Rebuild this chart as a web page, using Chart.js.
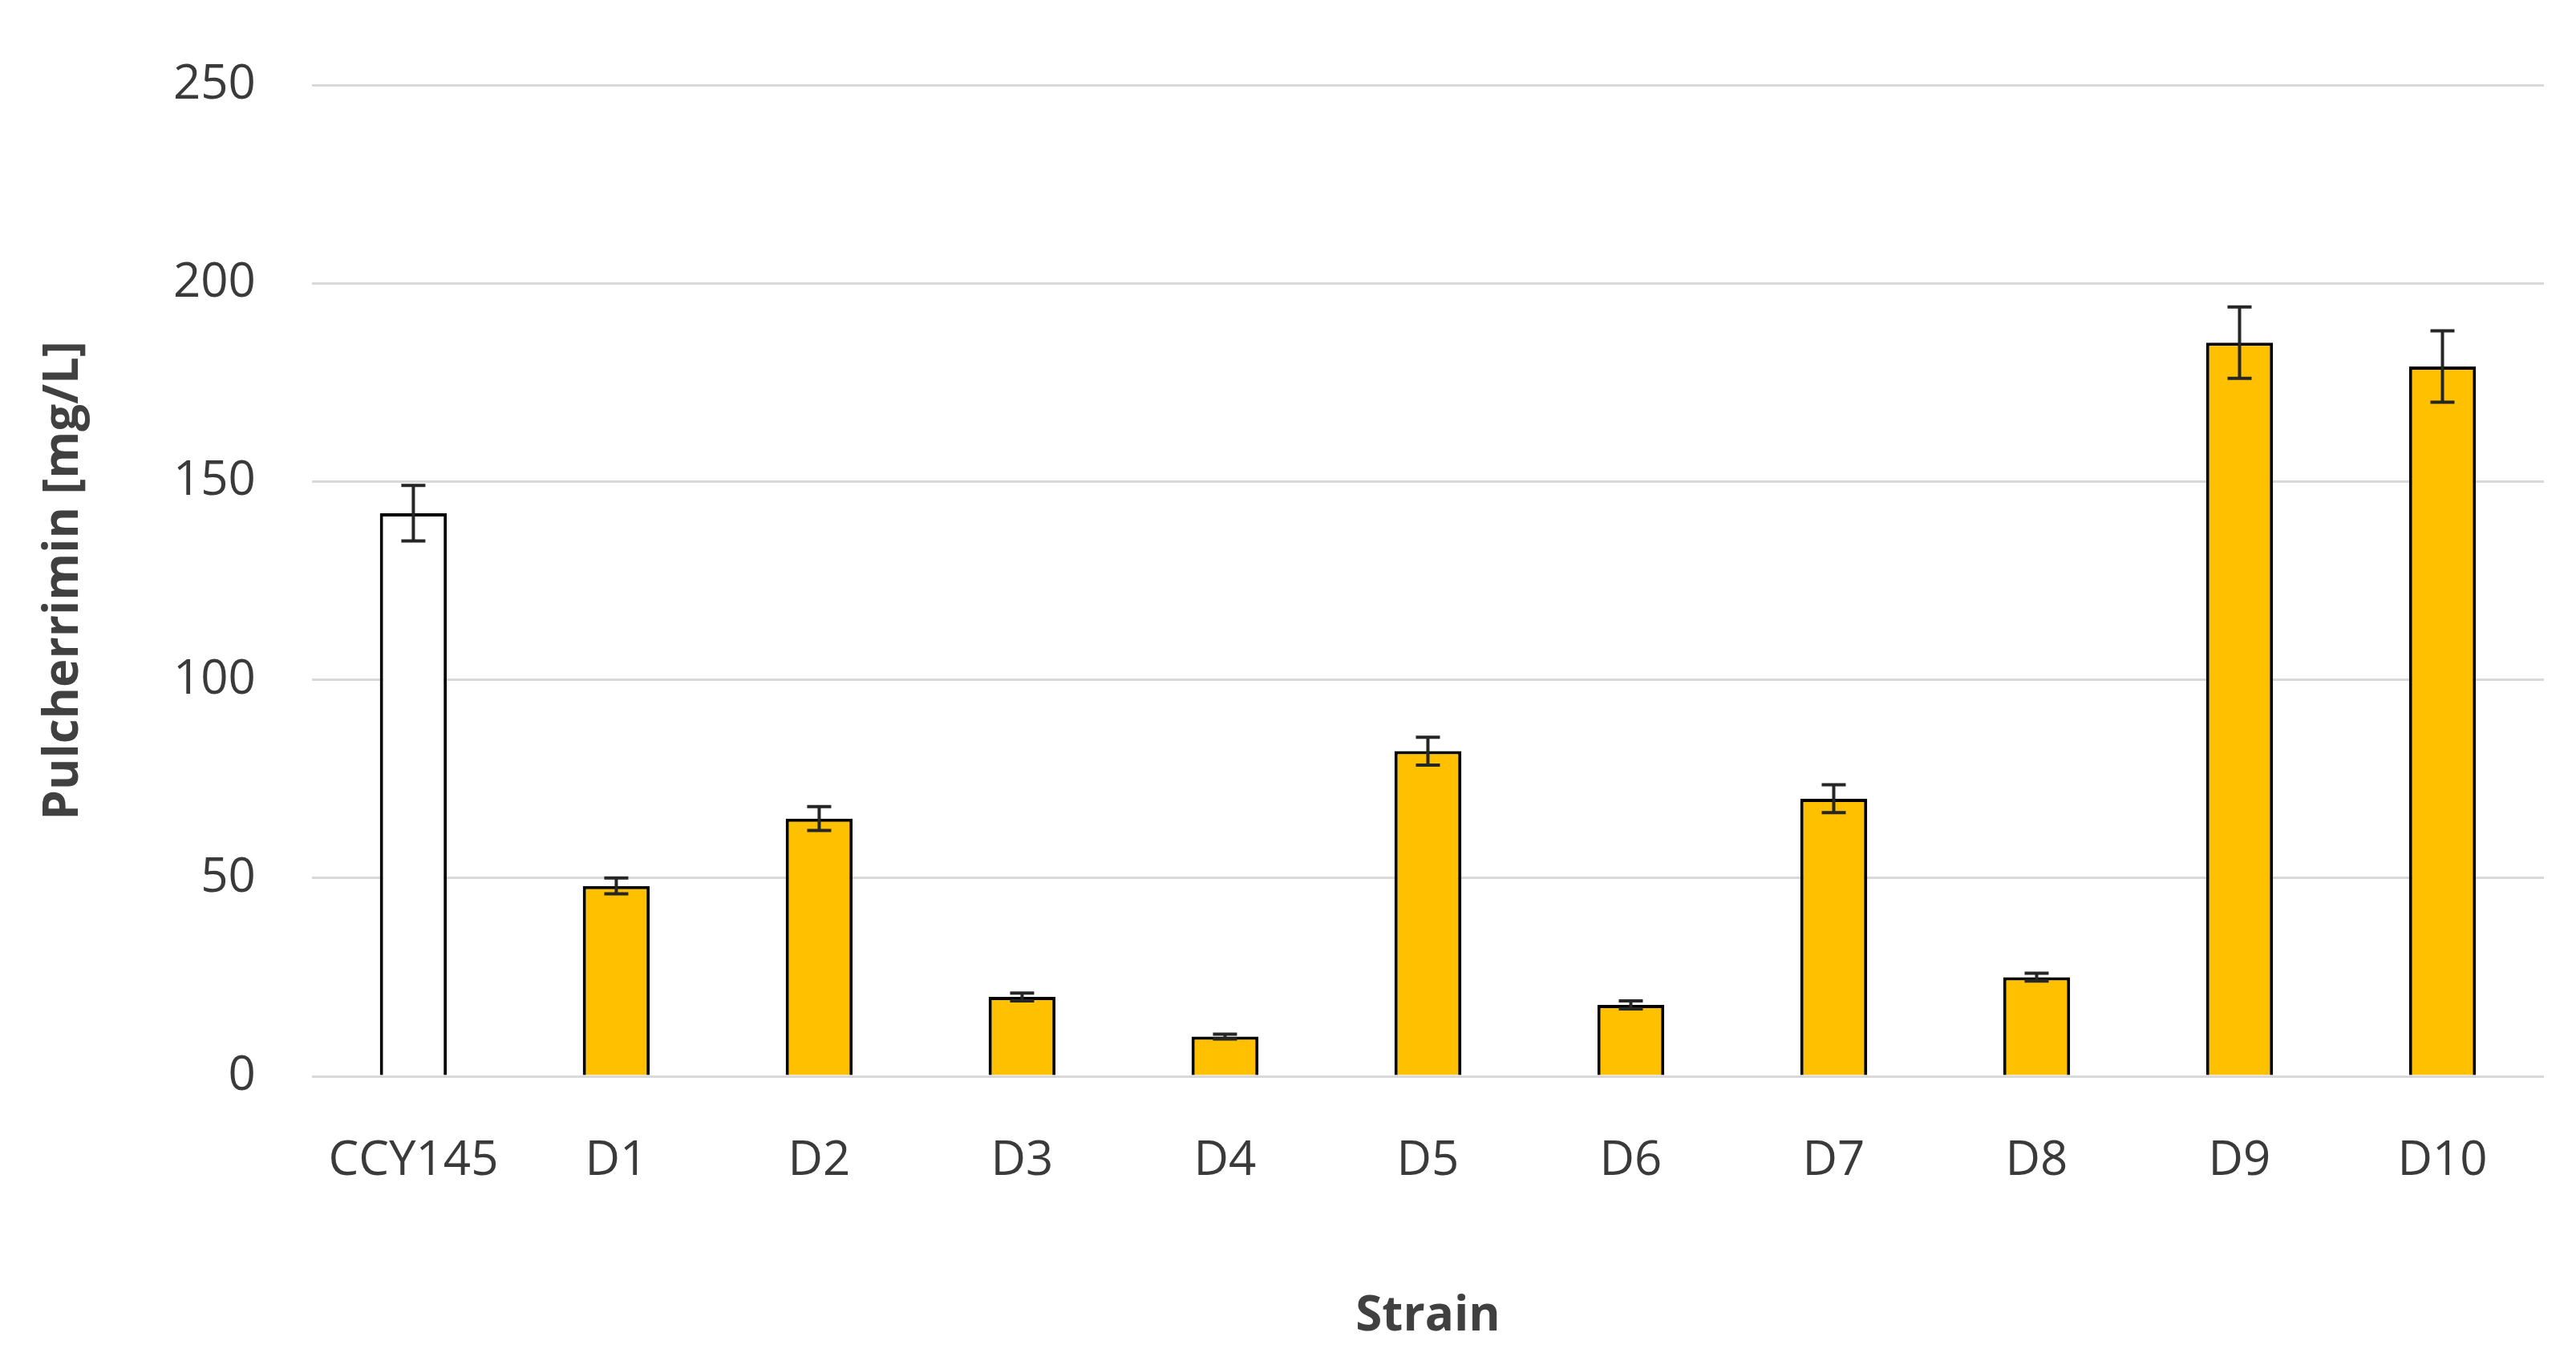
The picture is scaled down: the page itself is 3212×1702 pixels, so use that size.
<!DOCTYPE html>
<html>
<head>
<meta charset="utf-8">
<script src="https://cdn.jsdelivr.net/npm/chart.js@4/dist/chart.umd.min.js"></script>
<style>
  html, body { margin: 0; padding: 0; background: #fff; }
  #wrap { width: 3212px; height: 1702px; }
</style>
</head>
<body>
<div id="wrap"><canvas id="chart"></canvas></div>
<script>
const strains = ['CCY145', 'D1', 'D2', 'D3', 'D4', 'D5', 'D6', 'D7', 'D8', 'D9', 'D10']
const pulcherrimin = [142, 48, 65, 20, 10, 82, 18, 70, 25, 185, 179]
const errors = [7, 2, 3, 1, 0.6, 3.5, 1, 3.5, 1, 9, 9]
const barColors = ['#ffffff', '#ffc000', '#ffc000', '#ffc000', '#ffc000', '#ffc000', '#ffc000', '#ffc000', '#ffc000', '#ffc000', '#ffc000']

// draws the error whiskers through the y scale
const errorBars = {
  id: 'errorBars',
  afterDatasetsDraw(chart) {
    const ctx = chart.ctx
    const y = chart.scales.y
    const meta = chart.getDatasetMeta(0)
    ctx.save()
    ctx.strokeStyle = '#262626'
    ctx.lineWidth = 4
    meta.data.forEach((bar, i) => {
      const v = pulcherrimin[i], e = errors[i]
      const top = y.getPixelForValue(v + e)
      const bot = y.getPixelForValue(v - e)
      const cap = 15
      ctx.beginPath()
      ctx.moveTo(bar.x, top); ctx.lineTo(bar.x, bot)
      ctx.moveTo(bar.x - cap, top); ctx.lineTo(bar.x + cap, top)
      ctx.moveTo(bar.x - cap, bot); ctx.lineTo(bar.x + cap, bot)
      ctx.stroke()
    })
    ctx.restore()
  }
}

Chart.defaults.font.family = "'Open Sans', sans-serif"
Chart.defaults.color = '#404040'

new Chart(document.getElementById('chart'), {
  type: 'bar',
  data: {
    labels: strains,
    datasets: [{
      data: pulcherrimin,
      backgroundColor: barColors,
      borderColor: '#000000',
      borderWidth: 4,
      borderSkipped: 'bottom',
      barPercentage: 0.33,
      categoryPercentage: 1
    }]
  },
  options: {
    responsive: true,
    maintainAspectRatio: false,
    animation: false,
    layout: { padding: { top: 24, right: 40, left: 40, bottom: 20 } },
    plugins: { legend: { display: false }, tooltip: { enabled: false } },
    scales: {
      x: {
        grid: { display: false },
        border: { display: false },
        ticks: { font: { size: 60 }, padding: 62, color: '#3a3a3a' },
        title: { display: true, text: 'Strain', font: { size: 60, weight: 'bold' }, padding: { top: 60 } }
      },
      y: {
        min: 0, max: 250,
        ticks: { stepSize: 50, font: { size: 60 }, padding: 70, color: '#3a3a3a' },
        grid: { color: '#d9d9d9', lineWidth: 3, drawTicks: false },
        border: { display: false },
        title: { display: true, text: 'Pulcherrimin [mg/L]', font: { size: 60, weight: 'bold' }, padding: { bottom: 30 } }
      }
    }
  },
  plugins: [errorBars]
})
</script>
</body>
</html>
